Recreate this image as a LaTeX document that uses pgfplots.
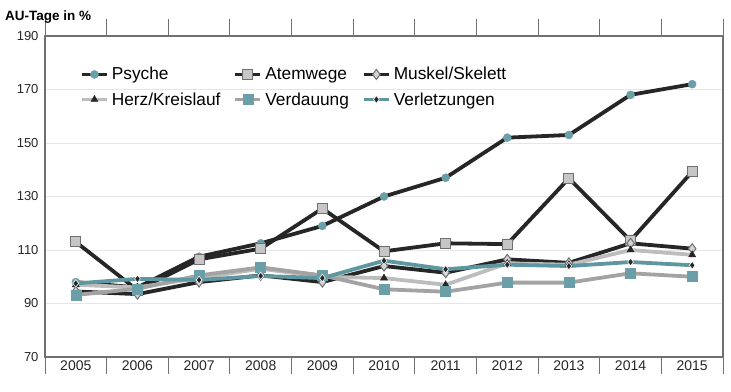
\documentclass[border=0pt]{standalone}
\usepackage{fontspec}
\setmainfont{Liberation Sans}
\usepackage{pgfplots}
\usepackage{pgfplotstable}
\pgfplotsset{compat=1.18}
\definecolor{dk}{HTML}{262626}
\definecolor{lg}{HTML}{BDBDBD}
\definecolor{mg}{HTML}{A3A3A3}
\definecolor{tl}{HTML}{6A9FA8}
\definecolor{tlline}{HTML}{5E979F}
\definecolor{sqfill}{HTML}{C6C6C6}
\definecolor{dmfill}{HTML}{D2D2D2}
\definecolor{frame}{HTML}{707070}
\definecolor{grid}{HTML}{E6E6E6}
\pgfplotstableread{
x Psyche Atemwege Muskel Herz Verdauung Verletzungen
0 98    113   94.5  97    93.2  97.5
1 96    95    93.5  96    95.5  99.2
2 107.5 106.5 98    99.5  100.5 98.8
3 112.5 110.5 100.5 103   103.5 100.3
4 119   125.5 98    100   100.5 99.5
5 130   109.5 104   99.5  95.3  106
6 137   112.5 101.5 97    94.4  102.8
7 152   112.2 106.5 105   97.8  104.5
8 153   136.8 105.2 104.5 97.8  104
9 168   113.5 112.5 110   101.3 105.5
10 172  139.3 110.5 108.2 100   104.3
}\data
\begin{document}
\begin{tikzpicture}
\begin{axis}[
  scale only axis, width=678pt, height=321pt,
  xmin=-0.5, xmax=10.5, ymin=70, ymax=190,
  ytick={70,90,...,190},
  xtick={0,...,10},
  xticklabels={2005,2006,2007,2008,2009,2010,2011,2012,2013,2014,2015},
  extra x ticks={-0.5,0.5,...,10.5},
  extra x tick labels={},
  extra x tick style={grid=none, tick align=outside, major tick length=17pt, tick style={draw=frame, line width=1pt}},
  major tick length=0pt,
  tick style={draw=none},
  ymajorgrids, grid style={draw=grid, line width=0.8pt},
  axis line style={draw=frame, line width=1.2pt},
  tick label style={font=\fontsize{13}{15}\selectfont, text=black!85},
  yticklabel style={xshift=-3pt},
  xticklabel style={anchor=base, yshift=-13.7pt, font=\fontsize{14}{16}\selectfont},
  /pgf/number format/assume math mode=true,
  legend columns=3,
  legend style={at={(0.047,0.912)}, anchor=north west, draw=none, fill=none,
    font=\fontsize{17.3}{20}\selectfont, column sep=0pt, row sep=9pt,
    nodes={inner xsep=3pt, inner ysep=1pt}, cells={anchor=west},
    /tikz/every even column/.append style={column sep=10pt}},
  legend image code/.code={\draw[mark repeat=2, mark phase=2] plot coordinates {(0pt,0pt) (12.5pt,0pt) (25pt,0pt)};},
]
\addplot[dk, line width=3.8pt, mark=*, mark size=4pt, mark options={fill=tl, draw=tl, line width=0.5pt}] table[x=x,y=Psyche]{\data};
\addlegendentry{Psyche}
\addplot[dk, line width=3.8pt, mark=square*, mark size=5pt, mark options={fill=sqfill, draw=frame, line width=1pt}] table[x=x,y=Atemwege]{\data};
\addlegendentry{Atemwege}
\addplot[dk, line width=3.8pt, mark=diamond*, mark size=5pt, mark options={fill=dmfill, draw=frame, line width=1pt}] table[x=x,y=Muskel]{\data};
\addlegendentry{Muskel/Skelett}
\addplot[lg, line width=3.8pt, mark=triangle*, mark size=4pt, mark options={fill=dk, draw=dk, line width=0.5pt}] table[x=x,y=Herz]{\data};
\addlegendentry{Herz/Kreislauf}
\addplot[mg, line width=3.8pt, mark=square*, mark size=5pt, mark options={fill=tl, draw=tl, line width=0.5pt}] table[x=x,y=Verdauung]{\data};
\addlegendentry{Verdauung}
\addplot[tlline, line width=3.8pt, mark=diamond*, mark size=3.8pt, mark options={fill=dk, draw=white, line width=0.6pt}] table[x=x,y=Verletzungen]{\data};
\addlegendentry{Verletzungen}
\end{axis}
\node[anchor=base west, inner sep=0, font=\bfseries\fontsize{13.5}{16}\selectfont] at ([xshift=-40pt,yshift=15.3pt]current axis.north west) {AU-Tage in \%};
\path ([xshift=-45pt,yshift=-17pt]current axis.south west) rectangle ([xshift=8pt,yshift=36pt]current axis.north east);
\end{tikzpicture}
\end{document}
